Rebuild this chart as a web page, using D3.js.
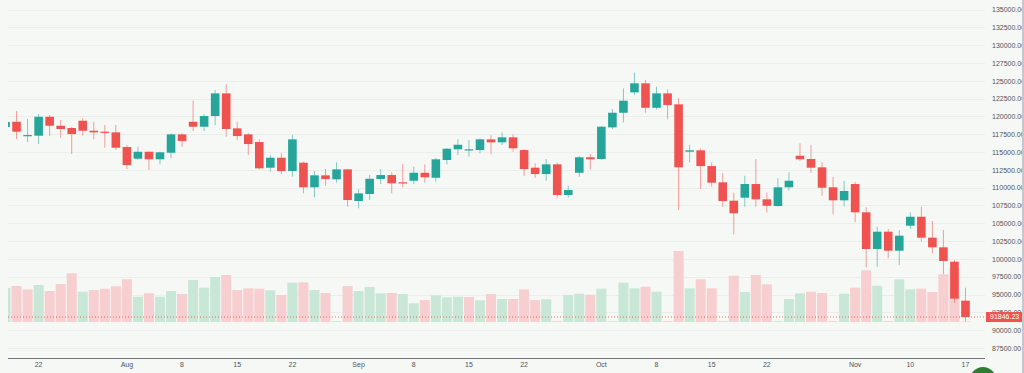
<!DOCTYPE html>
<meta charset="utf-8">
<style>
body { margin: 0; background: #f6f8f5; }
svg { display: block; font-family: "Liberation Sans", Arial, sans-serif; }
.grid line { stroke: #ebeeea; stroke-width: 1px; }
.yaxis text, .xaxis text { fill: #50535c; font-size: 7px; }
</style>
<svg id="chart" width="1024" height="373"></svg>
<script src="https://d3js.org/d3.v7.min.js"></script>
<script>

// daily candles, weekdays only
var dates = ["2025-07-17","2025-07-18","2025-07-21","2025-07-22","2025-07-23","2025-07-24","2025-07-25",
  "2025-07-28","2025-07-29","2025-07-30","2025-07-31","2025-08-01","2025-08-04","2025-08-05","2025-08-06",
  "2025-08-07","2025-08-08","2025-08-11","2025-08-12","2025-08-13","2025-08-14","2025-08-15","2025-08-18",
  "2025-08-19","2025-08-20","2025-08-21","2025-08-22","2025-08-25","2025-08-26","2025-08-27","2025-08-28",
  "2025-08-29","2025-09-01","2025-09-02","2025-09-03","2025-09-04","2025-09-05","2025-09-08","2025-09-09",
  "2025-09-10","2025-09-11","2025-09-12","2025-09-15","2025-09-16","2025-09-17","2025-09-18","2025-09-19",
  "2025-09-22","2025-09-23","2025-09-24","2025-09-25","2025-09-26","2025-09-29","2025-09-30","2025-10-01",
  "2025-10-02","2025-10-03","2025-10-06","2025-10-07","2025-10-08","2025-10-09","2025-10-10","2025-10-13",
  "2025-10-14","2025-10-15","2025-10-16","2025-10-17","2025-10-20","2025-10-21","2025-10-22","2025-10-23",
  "2025-10-24","2025-10-27","2025-10-28","2025-10-29","2025-10-30","2025-10-31","2025-11-03","2025-11-04",
  "2025-11-05","2025-11-06","2025-11-07","2025-11-10","2025-11-11","2025-11-12","2025-11-13","2025-11-14",
  "2025-11-17"];

var open = [118510,119250,117240,117290,119950,118690,118370,119390,117990,117850,
  117760,115700,114060,115040,113980,114900,117480,119250,118550,120050,
  123230,118320,117480,116400,112800,114200,112330,113500,110050,111730,
  111170,112570,108120,109110,111210,111770,110750,110970,112090,111390,
  113880,115380,115280,115280,116780,116360,117060,115280,112800,111910,
  113270,108970,112090,114260,114020,118460,120510,123370,124640,121210,
  123230,121690,115040,115240,113030,110750,108170,108590,110510,108360,
  107420,110050,114480,114020,112850,110050,108220,110510,106540,101390,
  103820,101150,104660,105920,102980,101630,99610,94140];

var high = [119630,120750,119630,120330,120190,119490,118510,119770,119250,118790,
  118790,115980,115740,115040,115040,117620,117620,122200,120330,123700,
  124500,119250,117620,116780,114580,114820,117380,113640,112330,112610,
  113550,112570,109810,111770,112570,112150,113320,112940,113270,114160,
  115560,116780,116680,116920,117380,117760,117480,115420,113410,114020,
  113500,110270,114440,114720,118650,121030,123940,126130,125100,124160,
  123800,122530,115980,115520,113550,112010,109290,111670,114020,109290,
  111310,112150,116220,115980,113550,111530,110970,110830,107240,104520,
  104200,104060,106540,107320,105320,104060,99850,95960];

var low = [118100,116820,116400,116120,117240,117010,114720,117290,116780,115600,
  115280,112610,113880,112470,113270,114120,115740,117950,117950,118790,
  117150,116680,114580,112570,112240,111910,111530,109200,108640,110270,
  110690,107320,107100,108260,110510,109200,110050,110510,110690,110830,
  113270,114580,114340,114820,114680,115980,115040,111670,111390,110970,
  108590,108590,111530,112570,113880,118230,119170,123000,120510,120990,
  119590,106860,113550,109810,110130,107320,103450,107320,107320,106540,
  107320,109570,113740,112090,108870,106260,107420,105140,98820,98910,
  100090,99150,104200,102410,100790,97880,93860,91190];

var close = [119210,117850,117380,119950,118690,118230,117520,117990,117760,117710,
  115600,113170,115040,113980,114960,117480,116540,118550,120050,123230,
  118230,117240,116120,112710,114200,112330,116780,110050,111730,111210,
  112570,108260,109200,111250,111770,110610,110610,112090,111450,113980,
  115460,116020,115380,116780,116360,117060,115520,112610,111910,113270,
  108970,109670,114260,113980,118550,120510,122200,124640,121210,123230,
  121590,112850,115240,113030,110690,108120,106400,110510,108360,107460,
  110050,110970,113980,112800,109990,108220,109530,106540,101390,103820,
  101150,103260,105920,102980,101630,99710,94420,91846.23];

var volume = [34000,36000,32700,37000,31000,38000,48700,30300,32000,33300,
  35700,42700,25300,28700,25300,31000,28000,42000,34300,45000,
  47000,32000,33700,33300,31700,27000,39300,39700,32000,29000,
  800,36000,31000,35000,28700,29000,28000,18700,22000,26700,
  24700,25300,25000,21700,28000,23000,23000,32700,22000,22700,
  900,27000,28300,27300,33300,700,39300,33700,35300,30300,
  800,71000,33700,42700,33700,900,46300,30000,47000,37700,
  800,23000,28700,30300,29000,900,28300,34300,51700,36300,
  900,42700,32700,33300,30000,47700,53700,500];

var tickDates = ["2025-07-22","2025-08-01","2025-08-08","2025-08-15","2025-08-22","2025-09-01",
  "2025-09-08","2025-09-15","2025-09-22","2025-10-01","2025-10-08","2025-10-15","2025-10-22",
  "2025-11-03","2025-11-10","2025-11-17"];
var tickLabels = ["22","Aug","8","15","22","Sep","8","15","22","Oct","8","15","22","Nov","10","17"];

var priceTicks = [87500,90000,92500,95000,97500,100000,102500,105000,107500,110000,112500,
  115000,117500,120000,122500,125000,127500,130000,132500,135000];

var width = 1024, height = 373;
var plotLeft = 8, plotRight = 985, axisY = 358;
var upColor = "#26a69a", downColor = "#ef5350";

var svg = d3.select("#chart");

svg.append("rect")
    .attr("width", width)
    .attr("height", height)
    .attr("fill", "#f6f8f5");

var x = d3.scaleBand().domain(dates).range([0, 971]);
var y = d3.scaleLinear().domain([87500, 135000]).range([348, 9.5]);
var yVol = d3.scaleLinear().domain([0, 100000]).range([322, 222]);

var candles = dates.map(function(d, i) {
  return {date: d, o: open[i], h: high[i], l: low[i], c: close[i], v: volume[i],
          volUp: i == 0 ? close[i] >= open[i] : close[i] >= close[i - 1]};
});

svg.append("defs").append("clipPath")
    .attr("id", "plot")
  .append("rect")
    .attr("x", plotLeft)
    .attr("y", 0)
    .attr("width", plotRight - plotLeft)
    .attr("height", axisY);

// grid
svg.append("g")
    .attr("class", "grid")
  .selectAll("line")
  .data(priceTicks)
  .enter().append("line")
    .attr("x1", plotLeft)
    .attr("x2", plotRight)
    .attr("y1", function(d) { return Math.round(y(d)) + 0.5; })
    .attr("y2", function(d) { return Math.round(y(d)) + 0.5; });

var plot = svg.append("g").attr("clip-path", "url(#plot)");

var bw = x.bandwidth();

// volume
plot.append("g")
  .selectAll("rect")
  .data(candles)
  .enter().append("rect")
    .attr("x", function(d) { return x(d.date) + 0.5; })
    .attr("width", bw - 1)
    .attr("y", function(d) { return yVol(d.v); })
    .attr("height", function(d) { return Math.max(0.6, yVol(0) - yVol(d.v)); })
    .attr("fill", function(d) { return d.volUp ? "#c9e7d6" : "#f7cfd0"; });

// last price line
plot.append("line")
    .attr("x1", plotLeft)
    .attr("x2", plotRight)
    .attr("y1", y(close[close.length - 1]))
    .attr("y2", y(close[close.length - 1]))
    .attr("stroke", downColor)
    .attr("stroke-width", 1)
    .attr("stroke-dasharray", "1,2")
    .attr("opacity", 0.8);

// wicks
plot.append("g")
  .selectAll("line")
  .data(candles)
  .enter().append("line")
    .attr("x1", function(d) { return x(d.date) + bw / 2; })
    .attr("x2", function(d) { return x(d.date) + bw / 2; })
    .attr("y1", function(d) { return y(d.h); })
    .attr("y2", function(d) { return y(d.l); })
    .attr("stroke", function(d) { return d.c >= d.o ? upColor : downColor; })
    .attr("stroke-width", 1)
    .attr("opacity", 0.55);

// bodies
plot.append("g")
  .selectAll("rect")
  .data(candles)
  .enter().append("rect")
    .attr("x", function(d) { return x(d.date) + bw / 2 - 4.3; })
    .attr("width", 8.6)
    .attr("y", function(d) { return y(Math.max(d.o, d.c)); })
    .attr("height", function(d) { return Math.max(1.2, Math.abs(y(d.o) - y(d.c))); })
    .attr("fill", function(d) { return d.c >= d.o ? upColor : downColor; });

// bottom axis
svg.append("line")
    .attr("x1", plotLeft)
    .attr("x2", plotRight)
    .attr("y1", axisY + 0.5)
    .attr("y2", axisY + 0.5)
    .attr("stroke", "#70747f")
    .attr("stroke-width", 1);

var xAxis = d3.axisBottom(x)
    .tickValues(tickDates)
    .tickSize(0)
    .tickPadding(0)
    .tickFormat(function(d, i) { return tickLabels[i]; });

svg.append("g")
    .attr("class", "xaxis")
    .attr("transform", "translate(0," + (axisY + 3) + ")")
    .call(xAxis)
    .call(function(g) { g.select(".domain").remove(); })
    .selectAll("text")
    .attr("dy", "0.9em");

// right axis
var yAxis = d3.axisRight(y)
    .tickValues(priceTicks)
    .tickSize(0)
    .tickPadding(0)
    .tickFormat(d3.format(".2f"));

svg.append("g")
    .attr("class", "yaxis")
    .attr("transform", "translate(992,0)")
    .call(yAxis)
    .call(function(g) { g.select(".domain").remove(); });

// last price tag
var lastY = y(close[close.length - 1]);
svg.append("rect")
    .attr("x", 986)
    .attr("y", lastY - 5)
    .attr("width", 38)
    .attr("height", 10)
    .attr("fill", downColor);

svg.append("text")
    .attr("x", 990)
    .attr("y", lastY)
    .attr("dy", "0.35em")
    .attr("fill", "#fff")
    .attr("font-size", "7px")
    .text(d3.format(".2f")(close[close.length - 1]));

svg.append("rect")
    .attr("x", 1022)
    .attr("y", 0)
    .attr("width", 2)
    .attr("height", height)
    .attr("fill", "#c3c7ce");

svg.append("circle")
    .attr("cx", 983)
    .attr("cy", 380)
    .attr("r", 13)
    .attr("fill", "#2e7d32");

</script>
